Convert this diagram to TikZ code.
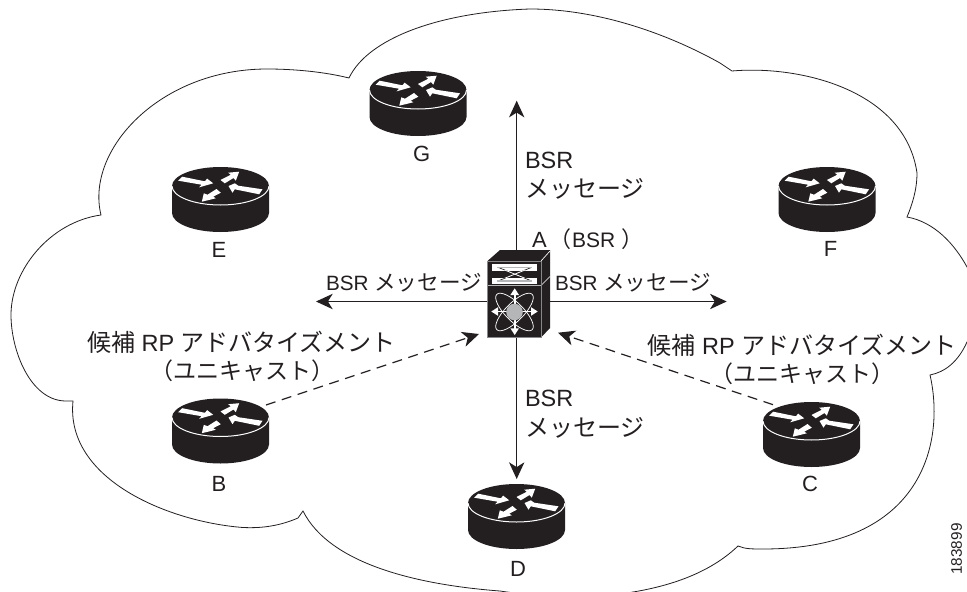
\documentclass[tikz,border=0pt]{standalone}
\usepackage{fontspec}
\setmainfont{Liberation Sans}
\newfontfamily\jp{Noto Sans CJK JP}
\usetikzlibrary{arrows.meta}
\definecolor{ink}{HTML}{231F20}
\definecolor{hub}{HTML}{B5B6B8}
\newcommand{\sizepx}[1]{\pgfmathsetmacro{\fsz}{#1*0.75}\fontsize{\fsz pt}{\fsz pt}\selectfont}
\newcommand{\kana}[2]{{\sizepx{#1}\jp #2}}
\tikzset{
  x=0.75pt, y=-0.75pt,
  cloudline/.style={draw=ink, line width=0.6pt, line join=miter},
  msg/.style={draw=ink, line width=0.9pt, -{Stealth[length=12.5pt,width=11.5pt,inset=3.6pt]}},
  cand/.style={msg, dash pattern=on 7.5pt off 5pt},
  routerbox/.style={minimum width=72.75pt, minimum height=48.75pt, inner sep=0pt, outer sep=0pt},
  switchbox/.style={minimum width=47.25pt, minimum height=66pt, inner sep=0pt, outer sep=0pt},
  lab/.style={text=ink, inner sep=0pt, outer sep=0pt, font=\sizepx{22}},
  labs/.style={lab, font=\sizepx{20.7}},
  labl/.style={lab, font=\sizepx{23.5}},
  router/.pic={
    \fill[ink] (-48.5,-13.5) arc[start angle=180,end angle=360,x radius=48.5,y radius=19]
       -- (48.5,13.5) arc[start angle=0,end angle=180,x radius=48.5,y radius=19] -- cycle;
    \draw[white,line width=0.75pt] (-48.5,-13.5) arc[start angle=180,end angle=0,x radius=48.5,y radius=19];
    \begin{scope}[shift={(0,-13.5)}]
      \fill[white] (-42.3,-5.3) -- (-38.3,-9.3) -- (-15.7,-4.7) -- (-13.3,-7.3) -- (-7.3,-2.7) -- (-21.3,1.3) -- (-19,-1.3) -- cycle;
      \fill[white] (0,-6) -- (10.3,-11.3) -- (7.7,-13.3) -- (18.7,-14.3) -- (15.3,-5.3) -- (13,-8) -- (4.3,-2.7) -- cycle;
      \fill[white] (42,3.3) -- (38.7,8.3) -- (14.3,3.3) -- (12,6.7) -- (8,0) -- (14.3,-2.7) -- (17.7,-0.3) -- cycle;
      \fill[white] (-4,3) -- (0.3,6.7) -- (-7.3,10.7) -- (-4.7,12.3) -- (-18.7,15.7) -- (-16.7,7.3) -- (-13,8.7) -- cycle;
    \end{scope}
  },
  switch/.pic={
    \begin{scope}[shift={(-518.5,-294)}]
      \fill[ink] (487.5,261) -- (500,250) -- (550,250) -- (550,328) -- (541,337.5) -- (487.5,337.5) -- cycle;
      \draw[white,line width=0.5pt] (541,261) -- (550,251);
      \draw[white,line width=0.5pt] (541,285.5) -- (550,276.5);
      \draw[hub!75!black,line width=0.6pt] (487.5,261) rectangle (541,337.5);
      \draw[hub,line width=0.7pt] (487.5,285.5) -- (541,285.5);
      \fill[white] (492,264) rectangle (537,270.7);
      \fill[white] (492,277.7) rectangle (537,284.3);
      \draw[ink,line width=0.5pt] (498,267.3) -- (531.7,281);
      \draw[ink,line width=0.5pt] (498,281) -- (531.7,267.3);
      \begin{scope}
        \clip (492,270.7) rectangle (537,277.7);
        \draw[white,line width=0.6pt] (498,267.3) -- (531.7,281);
        \draw[white,line width=0.6pt] (498,281) -- (531.7,267.3);
      \end{scope}
      \draw[hub,line width=0.9pt] (497,267.3) -- (532,267.3);
      \draw[hub,line width=0.9pt] (497,281) -- (532,281);
      \draw[white,line width=0.55pt,rotate around={45:(514.5,312)}] (514.5,312) ellipse[x radius=25,y radius=9];
      \draw[white,line width=0.55pt,rotate around={-45:(514.5,312)}] (514.5,312) ellipse[x radius=25,y radius=9];
      \draw[white,line width=1.2pt] (514.7,292) -- (514.7,330);
      \draw[white,line width=1.2pt] (495,311.5) -- (534,311.5);
      \fill[white] (514.7,288.3) -- (519,295) -- (510.4,295) -- cycle;
      \fill[white] (514.7,335) -- (519,328.3) -- (510.4,328.3) -- cycle;
      \fill[white] (491.3,311.5) -- (498,307.2) -- (498,315.8) -- cycle;
      \fill[white] (537.7,311.5) -- (531,307.2) -- (531,315.8) -- cycle;
      \fill[hub] (514.5,312) circle[radius=8.3];
    \end{scope}
  }
}
\begin{document}
\begin{tikzpicture}
\useasboundingbox (0,0) rectangle (967,592);
\clip (0,0) rectangle (967,592);
% cloud
\path[cloudline]
  (349,78) .. controls (368,38) and (440,12) .. (530,9)
  .. controls (600,9) and (670,35) .. (720,63) -- (732,71)
  .. controls (800,65) and (905,90) .. (917,173)
  .. controls (917,190) and (912,205) .. (907,217)
  .. controls (935,222) and (955,245) .. (967,267)
  .. controls (990,300) and (985,320) .. (967,342)
  .. controls (958,362) and (945,372) .. (930,375)
  .. controls (945,440) and (925,549) .. (763,549)
  .. controls (752,549) and (745,549) .. (738,546)
  .. controls (715,568) and (675,590) .. (600,596)
  .. controls (560,599) and (520,594) .. (500,591)
  .. controls (420,585) and (330,565) .. (303,511)
  -- (298,518)
  .. controls (275,528) and (255,528) .. (243,527.5)
  .. controls (170,522) and (65,480) .. (73,401)
  -- (65,401)
  .. controls (30,400) and (11,350) .. (11,315)
  .. controls (11,270) and (50,222) .. (101,215)
  .. controls (85,150) and (160,69) .. (267,69)
  .. controls (295,69) and (325,72) .. (349,78) -- cycle;
% devices
\node[switchbox] (A) at (518.5,294) {};
\node[routerbox] (E) at (220.5,199.5) {};
\node[routerbox] (G) at (418,103.5) {};
\node[routerbox] (F) at (827,199.5) {};
\node[routerbox] (B) at (220.5,431) {};
\node[routerbox] (C) at (811.5,434.5) {};
\node[routerbox] (D) at (516.5,516.5) {};
\coordinate (tipU) at (516.7,100.7);
\coordinate (tipD) at (516.7,479);
\coordinate (tipL) at (316,301.5);
\coordinate (tipR) at (726.7,301.5);
% connectors
\draw[msg] (A.north -| tipU) -- (tipU);
\draw[msg] (A.south -| tipD) -- (tipD);
\draw[msg] (A.west |- tipL) -- (tipL);
\draw[msg] (A.east |- tipR) -- (tipR);
\draw[cand] ([shift={(45.5,-26)}]B.center) -- ([shift={(-39.5,40)}]A.center);
\draw[cand] ([shift={(-38.5,-29.8)}]C.center) -- ([shift={(39.5,38.7)}]A.center);
\pic at (A) {switch};
\pic at (E) {router};
\pic at (G) {router};
\pic at (F) {router};
\pic at (B) {router};
\pic at (C) {router};
\pic at (D) {router};
% labels
\node[lab] (lE) at (219,250) {E};
\node[lab] (lG) at (421.7,154) {G};
\node[lab] (lF) at (830.7,249.3) {F};
\node[lab] (lB) at (219,483.7) {B};
\node[lab] (lC) at (810,483.7) {C};
\node[lab] (lD) at (518,568.7) {D};
\node[labs,anchor=west] (lA) at (532,239) {\sizepx{22}A\hspace{2pt}{\jp （}\hspace{0.5pt}\sizepx{21}BSR\hspace{5pt}{\sizepx{22}\jp ）}};
\node[labl,anchor=west] (u1) at (525,160.7) {BSR};
\node[labl,anchor=west] (u2) at (525,188.5) {\kana{24}{メッセージ}};
\node[labl,anchor=west] (d1) at (525,398.7) {BSR};
\node[labl,anchor=west] (d2) at (525,427.5) {\kana{24}{メッセージ}};
\node[labs,anchor=west] (ml) at (326,282.7) {BSR \kana{21.6}{メッセージ}};
\node[labs,anchor=west] (mr) at (555,282.7) {BSR \kana{21.6}{メッセージ}};
\node[lab,font=\sizepx{23.5}] (cl1) at (241.5,342) {\kana{24}{候補} RP \kana{24}{アドバタイズメント}};
\node[lab] (cl2) at (242,371) {\kana{23}{（ユニキャスト）}};
\node[lab,font=\sizepx{23.5}] (cr1) at (802,345.3) {\kana{24}{候補} RP \kana{24}{アドバタイズメント}};
\node[lab] (cr2) at (802.5,373.7) {\kana{23}{（ユニキャスト）}};
\node[lab,font=\sizepx{15.3},rotate=90] (num) at (956.7,549) {183899};
\end{tikzpicture}
\end{document}
